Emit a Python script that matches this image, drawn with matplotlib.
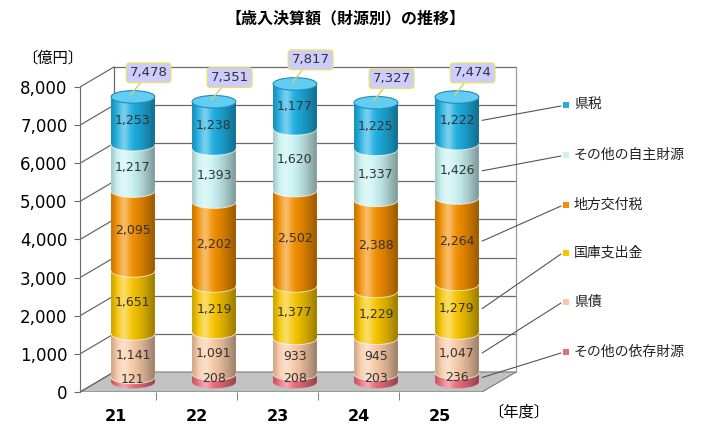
import matplotlib
matplotlib.use('Agg')
import matplotlib.pyplot as plt
import numpy as np
from matplotlib.patches import Polygon, Ellipse, PathPatch
from matplotlib.path import Path

plt.rcParams['font.family'] = ['Noto Sans CJK JP', 'DejaVu Sans']
NUM_FONT = ['DejaVu Sans']

# data (億円)
years = ['21', '22', '23', '24', '25']
sources = ['その他の依存財源', '県債', '国庫支出金', '地方交付税', 'その他の自主財源', '県税']
other_dep = [121, 208, 208, 203, 236]
bonds = [1141, 1091, 933, 945, 1047]
subsidies = [1651, 1219, 1377, 1229, 1279]
alloc_tax = [2095, 2202, 2502, 2388, 2264]
other_own = [1217, 1393, 1620, 1337, 1426]
pref_tax = [1253, 1238, 1177, 1225, 1222]
yticks = [0, 1000, 2000, 3000, 4000, 5000, 6000, 7000, 8000]

colors = ['#e96b78', '#f7c9a6', '#f6c400', '#f28e00', '#c8f1f1', '#1eaee0']
cap_color = '#62cdf0'

vals = np.array([other_dep, bonds, subsidies, alloc_tax, other_own, pref_tax])
bottoms = np.vstack([np.zeros(5), np.cumsum(vals, axis=0)[:-1]])
totals = vals.sum(axis=0)

# pseudo 3d geometry (category units / value units)
DX, DY = 0.42, 525
XL, XR = -0.444, 4.52
W, EH = 0.54, 330
base = DY / 2


def fig_xy(px, py):
    return px / 720, 1 - py / 442


fig = plt.figure(figsize=(7.2, 4.42), dpi=100)
ax = fig.add_axes([80 / 720, 50 / 442, 450 / 720, 342 / 442])
ax.set_xlim(XL, XL + 450 / 81)
ax.set_ylim(0, 342 / 0.038125)

# walls, floor, grid
floor = Polygon([(XL, 0), (XR, 0), (XR + DX, DY), (XL + DX, DY)],
                closed=True, fc='#c2c2c2', ec='#7a7a7a', lw=0.8, zorder=1)
ax.add_patch(floor)
for v in yticks:
    if v > 0:
        ax.plot([XL + DX, XR + DX], [v + DY, v + DY], color='#6a6a6a', lw=0.9, zorder=1)
    ax.plot([XL, XL + DX], [v, v + DY], color='#6a6a6a', lw=0.9, zorder=1)
ax.plot([XL + DX, XL + DX], [DY, yticks[-1] + DY], color='#6a6a6a', lw=0.9, zorder=1)
ax.plot([XR + DX, XR + DX], [DY, yticks[-1] + DY], color='#9a9a9a', lw=0.9, zorder=1)

# cylinders
xc = np.arange(len(years)) + DX / 2
for k in range(len(sources)):
    ax.bar(xc, vals[k], W, bottom=base + bottoms[k], color=colors[k], zorder=3)
    for i in range(len(years)):
        b = base + bottoms[k, i]
        ax.add_patch(Ellipse((xc[i], b), W, EH, fc=colors[k], ec='none', zorder=3))

u = np.linspace(0, 1, 120)
dark = np.zeros((1, 120, 4))
dark[..., 3] = 0.38 * np.clip((u - 0.45) / 0.55, 0, 1) ** 1.4 + 0.18 * np.clip((0.15 - u) / 0.15, 0, 1)
light = np.ones((1, 120, 4))
light[..., 3] = 0.40 * np.exp(-((u - 0.3) / 0.13) ** 2)

t1 = np.linspace(np.pi, 2 * np.pi, 40)
t2 = np.linspace(0, np.pi, 40)
for i in range(len(years)):
    y0 = base
    y1 = base + totals[i]
    xs = np.concatenate([xc[i] + W / 2 * np.cos(t1), xc[i] + W / 2 * np.cos(t2)])
    ys = np.concatenate([y0 + EH / 2 * np.sin(t1), y1 + EH / 2 * np.sin(t2)])
    clip = PathPatch(Path(np.column_stack([xs, ys])), fc='none', ec='none', transform=ax.transData)
    ax.add_patch(clip)
    for img in (dark, light):
        im = ax.imshow(img, extent=[xc[i] - W / 2, xc[i] + W / 2, y0 - EH, y1 + EH],
                       aspect='auto', zorder=4, interpolation='bilinear')
        im.set_clip_path(clip)
    # segment boundaries
    for k in range(1, len(sources)):
        b = base + bottoms[k, i]
        ax.plot(xc[i] + W / 2 * np.cos(t1), b + EH / 2 * np.sin(t1), color='white', lw=0.7,
                alpha=0.7, zorder=5)
    ax.add_patch(Ellipse((xc[i], y1), W, EH, fc=cap_color, ec='#1a8fbf', lw=0.8, zorder=5))

    for k in range(len(sources)):
        ax.text(xc[i], base + bottoms[k, i] + vals[k, i] / 2, f'{vals[k, i]:,}',
                ha='center', va='center', fontsize=9, color='#333333', zorder=6,
                family=NUM_FONT)

    ax.annotate(f'{totals[i]:,}', xy=(xc[i] - 0.03, y1 + EH * 0.15), xytext=(13, 16),
                textcoords='offset points', ha='center', va='center', fontsize=9.5, color='#333333',
                family=NUM_FONT,
                bbox=dict(boxstyle='round,pad=0.25', fc='#ccccff', ec='#e8e070', lw=1),
                arrowprops=dict(arrowstyle='-', color='#d8d060', lw=1, shrinkA=0, shrinkB=0),
                zorder=7)

# legend with leader lines
leg_y = [352, 302, 253, 205, 155, 105]
for k in range(len(sources)):
    fx, fy = fig_xy(566, leg_y[k])
    fig.patches.append(plt.Rectangle((fx - 3 / 720, fy - 3 / 442), 6 / 720, 6 / 442,
                                     transform=fig.transFigure, fc=colors[k], ec='none'))
    fig.text(fig_xy(574, 0)[0], fy, sources[k], ha='left', va='center', fontsize=10, color='#222222')
    ax.annotate('', xy=(xc[-1] + W / 2 + 0.04, base + bottoms[k, -1] + vals[k, -1] / 2),
                xytext=fig_xy(561, leg_y[k] + 1), textcoords='figure fraction',
                arrowprops=dict(arrowstyle='-', color='#555555', lw=0.8, shrinkA=0, shrinkB=0),
                annotation_clip=False, zorder=2)

# axes styling
for s in ['top', 'right', 'bottom']:
    ax.spines[s].set_visible(False)
ax.spines['left'].set_bounds(0, yticks[-1])
ax.spines['left'].set_color('#6a6a6a')
ax.set_yticks(yticks)
ax.set_yticklabels([f'{v:,}' for v in yticks], family=NUM_FONT)
ax.tick_params(axis='y', length=4, pad=5, labelsize=12, color='#6a6a6a')
ax.set_xticks(range(len(years)))
ax.set_xticklabels(years, family=NUM_FONT, fontweight='bold')
ax.set_xticks([0.5, 1.5, 2.5, 3.5], minor=True)
ax.tick_params(axis='x', which='major', length=0, pad=12, labelsize=11.5)
ax.tick_params(axis='x', which='minor', length=6, color='#6a6a6a')

fig.text(*fig_xy(345, 18), '【歳入決算額（財源別）の推移】', ha='center', va='center',
         fontsize=11.5, fontweight='bold')
fig.text(*fig_xy(53, 58), '〔億円〕', ha='center', va='center', fontsize=11)
fig.text(*fig_xy(488, 412), '〔年度〕', ha='left', va='center', fontsize=11)

fig.savefig('out.png', dpi=100)
